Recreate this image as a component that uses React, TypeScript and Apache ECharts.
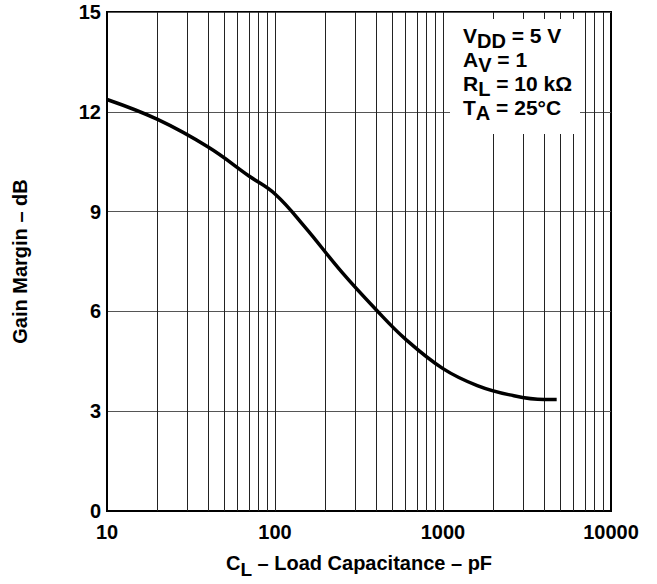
import React, { useEffect, useRef } from "react";
import * as echarts from "echarts";

const capacitance = [10, 20, 40, 70, 100, 150, 250, 400, 600, 1000, 1600, 2500, 4000, 4750];
const gainMargin = [12.37, 11.77, 10.94, 10.07, 9.53, 8.55, 7.18, 6.05, 5.16, 4.28, 3.77, 3.49, 3.35, 3.35];
const xGridValues = [20, 30, 40, 50, 60, 70, 80, 90, 100, 200, 300, 400, 500, 600, 700, 800, 900, 1000, 2000, 3000, 4000, 5000, 6000, 7000, 8000, 9000];
const yMin = 0;
const yMax = 15;
const yStep = 3;
const conditionLines = [
  ["V", "DD", " = 5 V"],
  ["A", "V", " = 1"],
  ["R", "L", " = 10 kΩ"],
  ["T", "A", " = 25°C"],
];

const FONT = '"Liberation Sans", Arial, Helvetica, sans-serif';

export default function App() {
  const ref = useRef<HTMLDivElement>(null);
  useEffect(() => {
    if (!ref.current) return;
    const chart = echarts.init(ref.current, null, { renderer: "svg" });
    const richMain = { fontSize: 20, fontWeight: "bold", fontFamily: FONT, color: "#000", lineHeight: 20, verticalAlign: "top" };
    const richSub = { fontSize: 19, fontWeight: "bold", fontFamily: FONT, color: "#000", lineHeight: 26, verticalAlign: "bottom" };
    const legMain = { ...richMain, fontSize: 21, lineHeight: 21 };
    const legSub = { ...richSub, fontSize: 20, lineHeight: 26 };
    chart.setOption({
      animation: false,
      backgroundColor: "#fff",
      grid: { left: 107, right: 46, top: 12, bottom: 71, show: true, borderColor: "#000", borderWidth: 2, backgroundColor: "#fff" },
      xAxis: {
        type: "log",
        logBase: 10,
        min: 10,
        max: 10000,
        axisLine: { show: true, lineStyle: { color: "#000", width: 2 } },
        axisTick: { show: false },
        splitLine: { show: false },
        axisLabel: { fontSize: 20, fontWeight: "bold", fontFamily: FONT, color: "#000", margin: 11, formatter: (v: number) => String(Math.round(v)) },
        name: "{m|C}{s|L}{m| – Load Capacitance – pF}",
        nameLocation: "middle",
        nameGap: 42,
        nameTextStyle: { rich: { m: richMain, s: richSub } },
      },
      yAxis: {
        type: "value",
        min: yMin,
        max: yMax,
        interval: yStep,
        axisLine: { show: true, lineStyle: { color: "#000", width: 2 } },
        axisTick: { show: false },
        splitLine: { show: true, lineStyle: { color: "#555", width: 1 } },
        axisLabel: { fontSize: 20, fontWeight: "bold", fontFamily: FONT, color: "#000", margin: 6 },
        name: "Gain Margin – dB",
        nameLocation: "middle",
        nameGap: 77,
        nameRotate: 90,
        nameTextStyle: { fontSize: 20, fontWeight: "bold", fontFamily: FONT, color: "#000" },
      },
      series: [
        {
          type: "line",
          data: capacitance.map((c, i) => [c, gainMargin[i]]),
          smooth: 0.4,
          showSymbol: false,
          lineStyle: { color: "#000", width: 3.5 },
          z: 5,
          markLine: {
            silent: true,
            symbol: "none",
            label: { show: false },
            lineStyle: { color: "#222", width: 1, type: "solid" },
            data: xGridValues.map((v) => ({ xAxis: v })),
            z: 1,
          },
        },
      ],
      graphic: [
        { type: "rect", z: 100, shape: { x: 450, y: 19, width: 130, height: 115 }, style: { fill: "#fff", stroke: null } },
        ...conditionLines.map((l, i) => ({
          type: "text",
          z: 101,
          x: 463,
          y: 25 + i * 24,
          style: {
            text: `{m|${l[0]}}{s|${l[1]}}{m|${l[2]}}`,
            rich: { m: legMain, s: legSub },
          },
        })),
      ],
    });
    return () => chart.dispose();
  }, []);
  return <div ref={ref} style={{ position: "fixed", left: 0, top: 0, width: 657, height: 584 }} />;
}
